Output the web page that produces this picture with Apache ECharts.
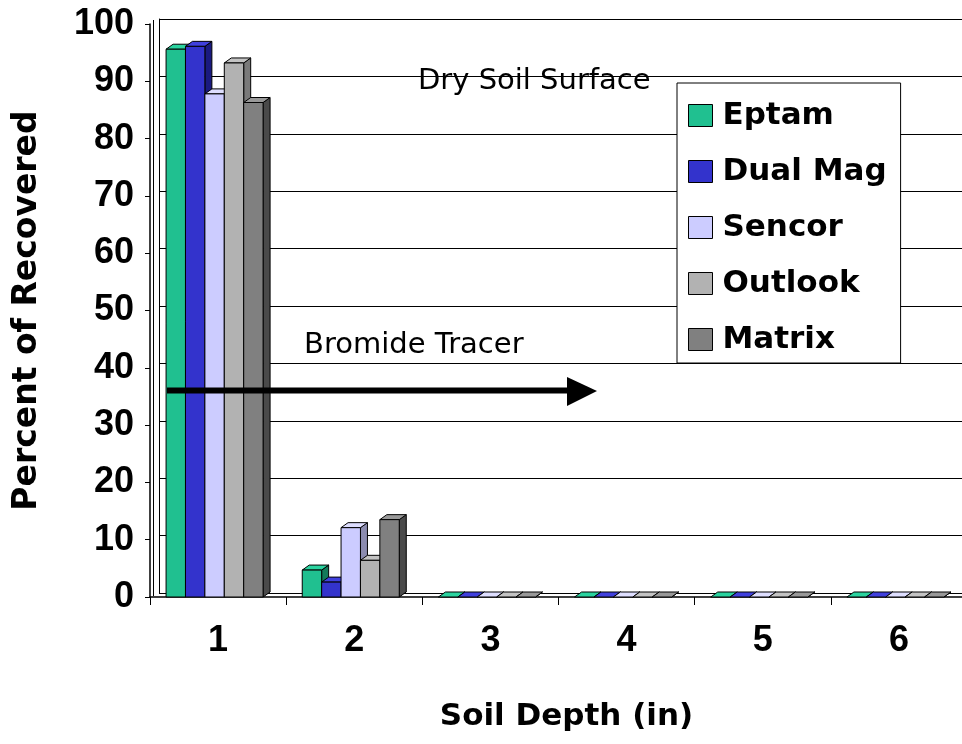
<!DOCTYPE html>
<html><head><meta charset="utf-8">
<script src="https://cdn.jsdelivr.net/npm/echarts@6/dist/echarts.min.js"></script>
<style>html,body{margin:0;padding:0;background:#fff}#c{width:962px;height:744px}</style>
</head><body><div id="c"></div>
<script>
const categories = ['1','2','3','4','5','6'];
const seriesNames = ['Eptam','Dual Mag','Sencor','Outlook','Matrix'];
const eptam   = [95.6, 4.7, 0, 0, 0, 0];
const dualMag = [96.1, 2.6, 0, 0, 0, 0];
const sencor  = [87.8, 12.1, 0, 0, 0, 0];
const outlook = [93.2, 6.4, 0, 0, 0, 0];
const matrix  = [86.3, 13.5, 0, 0, 0, 0];
const yTicks = [0,10,20,30,40,50,60,70,80,90,100];

const values = [eptam, dualMag, sencor, outlook, matrix];
const fronts = ['#20C090', '#3333CC', '#CCCCFF', '#B2B2B2', '#808080'];
const tops   = ['#2ad39f', '#4040dd', '#dedeff', '#c4c4c4', '#999999'];
const sides  = ['#137a5a', '#1a1a80', '#8c8cb0', '#7a7a7a', '#4a4a4a'];
const DX = 7, DY = -5;

const chart = echarts.init(document.getElementById('c'));

function makeRender(si) {
  return function (params, api) {
    const idx = api.value(0);
    const v = api.value(1);
    const c = api.coord([idx, v]);
    const base = api.coord([idx, 0]);
    const band = api.size([1, 0])[0];
    const w = band * 0.1425;
    const x0 = c[0] - 2.5 * w - DX / 2 + si * w;
    const yT = c[1], yB = base[1];
    const st = { stroke: '#000', lineWidth: 1 };
    const children = [];
    children.push({ type: 'polygon', shape: { points: [[x0 + w, yT], [x0 + w + DX, yT + DY], [x0 + w + DX, yB + DY], [x0 + w, yB]] },
      style: Object.assign({ fill: sides[si] }, st) });
    children.push({ type: 'polygon', shape: { points: [[x0, yT], [x0 + w, yT], [x0 + w + DX, yT + DY], [x0 + DX, yT + DY]] },
      style: Object.assign({ fill: tops[si] }, st) });
    if (yB - yT > 0.5) {
      children.push({ type: 'rect', shape: { x: x0, y: yT, width: w, height: yB - yT },
        style: Object.assign({ fill: fronts[si] }, st) });
    }
    return { type: 'group', children };
  };
}

const series = seriesNames.map((name, si) => ({
  name, type: 'custom', xAxisIndex: 0, yAxisIndex: 0,
  itemStyle: { color: fronts[si], borderColor: '#000', borderWidth: 1 },
  renderItem: makeRender(si),
  encode: { x: 0, y: 1 },
  data: categories.map((cat, i) => [i, values[si][i]]),
  z: 3
}));

const tickFont = '"Liberation Sans", Arial, sans-serif';
const titleFont = '"DejaVu Sans", sans-serif';

chart.setOption({
  animation: false,
  backgroundColor: '#fff',
  grid: [
    { left: 150, top: 24, right: -5, bottom: 147, outerBoundsMode: 'none', containLabel: false },
    { left: 159, top: 19, right: -5, bottom: 151, outerBoundsMode: 'none', containLabel: false }
  ],
  legend: {
    orient: 'vertical', left: 677, top: 83,
    backgroundColor: '#fff', borderColor: '#000', borderWidth: 1,
    padding: [17, 14, 8, 11], itemGap: 25, itemWidth: 24, itemHeight: 22,
    icon: 'rect',
    itemStyle: { borderColor: '#000', borderWidth: 1 },
    textStyle: { fontFamily: titleFont, fontWeight: 'bold', fontSize: 31, color: '#000', padding: [0, 0, 0, 5] },
    data: seriesNames
  },
  xAxis: [{
    type: 'category', data: categories, gridIndex: 0,
    name: 'Soil Depth (in)', nameLocation: 'middle', nameGap: 104,
    nameTextStyle: { fontFamily: titleFont, fontWeight: 'bold', fontSize: 31, color: '#000', padding: [0, 0, 0, 16] },
    axisLine: { lineStyle: { color: '#000', width: 1.5 } },
    axisTick: { show: true, length: 8, lineStyle: { color: '#000' } },
    axisLabel: { fontFamily: tickFont, fontWeight: 'bold', fontSize: 36, color: '#000', margin: 26 },
    splitLine: { show: false }
  }, {
    type: 'category', data: categories, gridIndex: 1, show: false
  }],
  yAxis: [{
    type: 'value', min: 0, max: 100, interval: 10, gridIndex: 0,
    name: 'Percent of Recovered', nameLocation: 'middle', nameGap: 106, nameRotate: 90,
    nameTextStyle: { fontFamily: titleFont, fontWeight: 'bold', fontSize: 33, color: '#000', padding: [0, 0, 0, 0] },
    axisLine: { show: true, lineStyle: { color: '#000', width: 1.5 } },
    axisTick: { show: true, length: 5, lineStyle: { color: '#000' } },
    axisLabel: { fontFamily: tickFont, fontWeight: 'bold', fontSize: 36, color: '#000', margin: 16,
      formatter: v => yTicks.includes(v) ? String(v) : '' },
    splitLine: { show: false }
  }, {
    type: 'value', min: 0, max: 100, interval: 10, gridIndex: 1,
    axisLine: { show: true, lineStyle: { color: '#000', width: 1 } },
    axisTick: { show: false }, axisLabel: { show: false },
    splitLine: { show: true, lineStyle: { color: '#000', width: 1 } }
  }],
  graphic: [
    { type: 'line', shape: { x1: 153.5, y1: 20, x2: 153.5, y2: 596 }, style: { stroke: '#000', lineWidth: 1 }, z: 1 },
    { type: 'text', z: 10, style: { x: 418, y: 81, text: 'Dry Soil Surface', font: '29px ' + titleFont, fill: '#000', verticalAlign: 'middle' } },
    { type: 'text', z: 10, style: { x: 304, y: 345, text: 'Bromide Tracer', font: '29px ' + titleFont, fill: '#000', verticalAlign: 'middle' } },
    { type: 'line', z: 10, shape: { x1: 167, y1: 390.5, x2: 570, y2: 390.5 }, style: { stroke: '#000', lineWidth: 6 } },
    { type: 'polygon', z: 10, shape: { points: [[567, 377], [597, 391], [567, 406]] }, style: { fill: '#000' } }
  ],
  series
});
</script></body></html>
